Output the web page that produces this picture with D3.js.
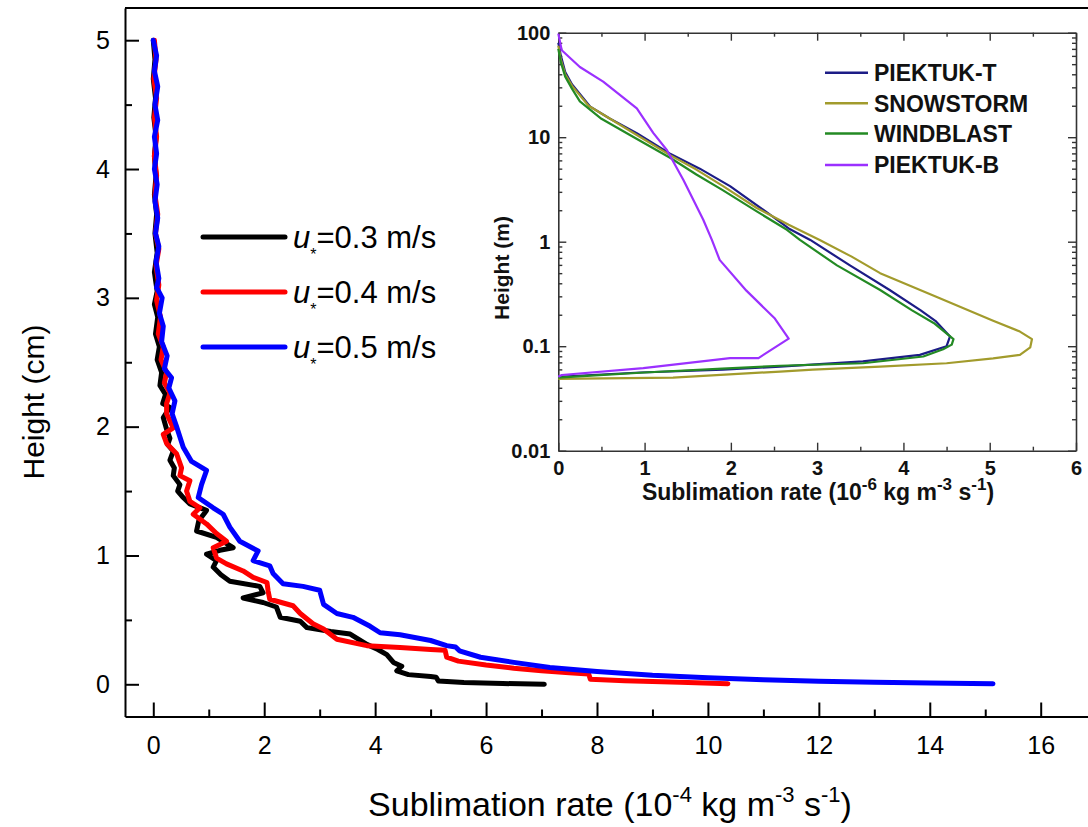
<!DOCTYPE html>
<html>
<head>
<meta charset="utf-8">
<script src="https://cdn.jsdelivr.net/npm/d3@7"></script>
<style>
  body { margin: 0; background: #fff; }
  svg { display: block; }
  text { font-family: "Liberation Sans", Arial, sans-serif; }
</style>
</head>
<body>
<svg id="chart" width="1088" height="827"></svg>
<script>
// ---- Main panel: sublimation rate (1e-4 kg m^-3 s^-1) vs height (cm) ----
const mainSeriesNames = ["0.3", "0.4", "0.5"];
const mainColors = ["#000000", "#ff0000", "#0000ff"];

const profileU03 = [
  [0.00,5.00],[0.03,4.85],[0.00,4.70],[0.04,4.55],[0.01,4.40],[0.05,4.25],[0.02,4.10],[0.05,3.95],
  [0.02,3.80],[0.06,3.65],[0.03,3.50],[0.07,3.35],[0.02,3.20],[0.07,3.05],[0.02,2.95],[0.08,2.85],
  [0.04,2.72],[0.11,2.62],[0.07,2.52],[0.15,2.42],[0.12,2.32],[0.22,2.25],[0.17,2.18],[0.30,2.15],
  [0.18,2.07],[0.24,1.98],[0.30,1.91],[0.26,1.86],[0.36,1.81],[0.30,1.74],[0.38,1.68],[0.36,1.62],
  [0.48,1.55],[0.44,1.50],[0.54,1.45],[0.66,1.40],[0.96,1.35],[0.82,1.27],[0.78,1.19],[1.14,1.14],
  [1.44,1.06],[1.20,1.04],[0.96,1.01],[1.14,0.96],[1.08,0.91],[1.22,0.85],[1.38,0.80],[1.92,0.76],
  [1.98,0.71],[1.62,0.67],[1.98,0.635],[2.22,0.60],[2.29,0.52],[2.65,0.49],[2.77,0.44],[3.20,0.41],
  [3.55,0.39],[3.85,0.31],[4.05,0.27],[4.21,0.23],[4.33,0.17],[4.48,0.14],[4.39,0.105],[4.60,0.075],
  [5.00,0.06],[5.10,0.055],[5.14,0.025],[5.60,0.014],[6.30,0.006],[7.05,0.0]
];
const profileU04 = [
  [0.02,5.00],[0.05,4.85],[0.01,4.70],[0.06,4.55],[0.02,4.40],[0.06,4.25],[0.02,4.10],[0.06,3.95],
  [0.03,3.80],[0.08,3.65],[0.04,3.50],[0.10,3.38],[0.05,3.25],[0.10,3.10],[0.06,2.98],[0.13,2.85],
  [0.09,2.72],[0.18,2.62],[0.14,2.52],[0.24,2.42],[0.20,2.34],[0.30,2.26],[0.24,2.18],[0.24,2.10],
  [0.36,1.99],[0.18,1.94],[0.24,1.87],[0.42,1.79],[0.51,1.68],[0.48,1.62],[0.66,1.58],[0.60,1.50],
  [0.66,1.42],[0.84,1.37],[0.72,1.32],[0.96,1.245],[1.14,1.17],[1.32,1.11],[1.08,1.06],[1.14,0.98],
  [1.32,0.935],[1.62,0.88],[1.80,0.83],[2.05,0.79],[2.07,0.725],[2.10,0.66],[2.52,0.61],[2.65,0.55],
  [2.88,0.47],[3.07,0.43],[3.31,0.35],[3.85,0.30],[4.45,0.285],[5.00,0.27],[5.26,0.265],[5.29,0.21],
  [5.50,0.18],[6.00,0.15],[6.50,0.125],[7.00,0.105],[7.50,0.09],[7.85,0.08],[7.88,0.04],[8.50,0.028],
  [9.50,0.015],[10.36,0.005]
];
const profileU05 = [
  [0.00,5.00],[0.06,4.88],[0.02,4.76],[0.08,4.64],[0.03,4.50],[0.08,4.38],[0.02,4.25],[0.06,4.12],
  [0.02,4.00],[0.07,3.88],[0.03,3.75],[0.08,3.62],[0.04,3.50],[0.10,3.40],[0.05,3.28],[0.10,3.15],
  [0.06,3.08],[0.16,3.00],[0.11,2.88],[0.18,2.78],[0.15,2.66],[0.25,2.55],[0.20,2.45],[0.33,2.38],
  [0.28,2.30],[0.39,2.20],[0.34,2.10],[0.42,2.00],[0.54,1.84],[0.69,1.73],[0.96,1.66],[0.87,1.55],
  [0.81,1.45],[1.08,1.37],[1.26,1.32],[1.38,1.22],[1.56,1.11],[1.89,1.035],[1.80,0.96],[2.10,0.92],
  [2.16,0.86],[2.34,0.78],[2.70,0.76],[3.00,0.73],[3.07,0.62],[3.31,0.55],[3.60,0.52],[3.91,0.45],
  [4.09,0.40],[4.45,0.385],[5.00,0.34],[5.29,0.30],[5.45,0.29],[5.52,0.26],[5.90,0.21],[6.50,0.17],
  [7.15,0.13],[8.00,0.10],[9.00,0.07],[10.00,0.05],[11.00,0.035],[12.00,0.024],[13.00,0.016],
  [14.00,0.01],[15.14,0.005]
];
const mainProfiles = [profileU03, profileU04, profileU05];

const mainXTicks = [0, 2, 4, 6, 8, 10, 12, 14, 16];
const mainXMinor = [1, 3, 5, 7, 9, 11, 13, 15, 17];
const mainYTicks = [0, 1, 2, 3, 4, 5];
const mainYMinor = [0.5, 1.5, 2.5, 3.5, 4.5];

// ---- Inset: sublimation rate (1e-6 kg m^-3 s^-1) vs height (m), log scale ----
const insetNames = ["PIEKTUK-T", "SNOWSTORM", "WINDBLAST", "PIEKTUK-B"];
const insetColors = ["#1c1c86", "#a29b2c", "#238a23", "#9b30ff"];

const piektukT = [
  [0,80],[0.03,60],[0.08,42],[0.16,32],[0.37,19.6],[0.6,15],[0.91,10.9],[1.29,7.0],[1.64,5.0],
  [1.99,3.4],[2.49,1.73],[2.67,1.34],[2.92,1.04],[3.38,0.593],[3.84,0.345],[4.2,0.22],[4.37,0.175],
  [4.54,0.124],[4.5,0.1],[4.19,0.0826],[3.53,0.0715],[2.57,0.0637],[1.91,0.0596],[0.95,0.056],[0,0.051]
];
const snowstorm = [
  [0,75],[0.03,55],[0.08,40],[0.16,31],[0.35,20],[0.6,15],[0.91,10.5],[1.3,6.7],[1.6,4.9],[1.91,3.4],
  [2.3,2.1],[2.67,1.45],[3.03,1.04],[3.4,0.72],[3.73,0.5],[4.38,0.297],[5.04,0.175],[5.35,0.138],
  [5.49,0.117],[5.47,0.0975],[5.35,0.0827],[5.04,0.0766],[4.5,0.0687],[3.73,0.0637],[2.95,0.0596],
  [2.57,0.0572],[1.33,0.05],[0,0.0486]
];
const windblast = [
  [0,70],[0.03,52],[0.08,38],[0.16,29],[0.25,22],[0.5,15],[0.83,10.5],[1.31,6.25],[1.6,4.4],[1.91,3.1],
  [2.3,1.95],[2.65,1.3],[2.8,1.04],[3.23,0.593],[3.73,0.345],[4.1,0.22],[4.35,0.167],[4.58,0.117],
  [4.56,0.1035],[4.46,0.0935],[4.23,0.0797],[3.53,0.0687],[2.57,0.065],[1.9,0.061],[1.0,0.056],[0,0.05]
];
const piektukB = [
  [0,98],[0.04,68],[0.25,47],[0.52,34],[0.91,18.9],[1.1,11],[1.26,7.5],[1.45,3.9],[1.68,1.62],
  [1.78,1.04],[1.87,0.67],[2.18,0.34],[2.51,0.184],[2.67,0.118],[2.32,0.077],[1.99,0.077],
  [0.985,0.0616],[0.04,0.053],[0,0.051]
];
const insetProfiles = [piektukT, snowstorm, windblast, piektukB];

const insetXTicks = [0, 1, 2, 3, 4, 5, 6];
const insetXMinor = [0.5, 1.5, 2.5, 3.5, 4.5, 5.5];
const insetYTicks = [0.01, 0.1, 1, 10, 100];
const insetYMinor = [];
[0.01, 0.1, 1, 10].forEach(dec => { for (let m = 2; m <= 9; m++) insetYMinor.push(+(m * dec).toPrecision(3)); });

// ---------------------------------------------------------------------------
const svg = d3.select("#chart");
const FONT = "'Liberation Sans', Arial, sans-serif";

// Main scales
const x = d3.scaleLinear().domain([-0.51, 17.61]).range([125, 1130]);
const y = d3.scaleLinear().domain([-0.25, 5.25]).range([716.5, 8]);

const main = svg.append("g");

// axes with inward ticks
function styleAxis(g, width) {
  g.selectAll("path.domain").attr("stroke", "#000").attr("stroke-width", width);
  g.selectAll(".tick line").attr("stroke", "#000").attr("stroke-width", width);
}

const yAxisG = main.append("g").attr("transform", "translate(125,0)")
  .call(d3.axisLeft(y).tickValues(mainYTicks).tickSizeInner(-14).tickSizeOuter(0).tickPadding(15)
    .tickFormat(d3.format("d")));
main.append("g").attr("transform", "translate(125,0)")
  .call(d3.axisLeft(y).tickValues(mainYMinor).tickSizeInner(-7).tickSizeOuter(0).tickFormat(""))
  .call(g => g.select(".domain").remove())
  .call(g => styleAxis(g, 2));
styleAxis(yAxisG, 2);
yAxisG.selectAll("text").attr("font-size", 25).attr("font-family", FONT).attr("fill", "#000");

const xAxisG = main.append("g").attr("transform", "translate(0,716.5)")
  .call(d3.axisBottom(x).tickValues(mainXTicks).tickSizeInner(-14).tickSizeOuter(0).tickPadding(20)
    .tickFormat(d3.format("d")));
main.append("g").attr("transform", "translate(0,716.5)")
  .call(d3.axisBottom(x).tickValues(mainXMinor).tickSizeInner(-7).tickSizeOuter(0).tickFormat(""))
  .call(g => g.select(".domain").remove())
  .call(g => styleAxis(g, 2));
styleAxis(xAxisG, 2);
xAxisG.selectAll("text").attr("font-size", 25).attr("font-family", FONT).attr("fill", "#000");

// top frame line
main.append("line").attr("x1", 125).attr("x2", 1130).attr("y1", 8).attr("y2", 8)
  .attr("stroke", "#000").attr("stroke-width", 2);

// profiles
const line = d3.line().x(d => x(d[0])).y(d => y(d[1]));
mainProfiles.forEach((p, i) => {
  main.append("path").datum(p).attr("d", line)
    .attr("fill", "none").attr("stroke", mainColors[i]).attr("stroke-width", 5)
    .attr("stroke-linejoin", "round").attr("stroke-linecap", "round");
});

// axis titles
svg.append("text").attr("transform", "translate(44,402) rotate(-90)")
  .attr("text-anchor", "middle").attr("font-size", 30).attr("font-family", FONT)
  .text("Height (cm)");

function unitTitle(sel, base, exps, supSize, supRise) {
  // base pieces alternate with superscript exponents
  sel.append("tspan").text(base[0]);
  exps.forEach((e, i) => {
    sel.append("tspan").attr("font-size", supSize).attr("dy", -supRise).text(e);
    sel.append("tspan").attr("dy", supRise).text(base[i + 1]);
  });
}
const xTitle = svg.append("text").attr("x", 610).attr("y", 816)
  .attr("text-anchor", "middle").attr("font-size", 34).attr("font-family", FONT);
unitTitle(xTitle, ["Sublimation rate (10", " kg m", " s", ")"], ["-4", "-3", "-1"], 22, 14);

// legend
const legendRows = [237, 292, 347];
mainSeriesNames.forEach((name, i) => {
  const ly = legendRows[i];
  svg.append("line").attr("x1", 203).attr("x2", 285).attr("y1", ly).attr("y2", ly)
    .attr("stroke", mainColors[i]).attr("stroke-width", 5).attr("stroke-linecap", "round");
  const t = svg.append("text").attr("x", 293).attr("y", ly + 11)
    .attr("font-size", 31).attr("font-family", FONT);
  t.append("tspan").attr("font-style", "italic").text("u");
  t.append("tspan").attr("font-size", 16).attr("dy", 12).text("*");
  t.append("tspan").attr("dy", -12).text("=" + name + " m/s");
});

// ---------------- Inset ----------------
const ix = d3.scaleLinear().domain([0, 6]).range([558.3, 1076]);
const iy = d3.scaleLog().domain([0.01, 100]).range([450.7, 32.7]);
const inset = svg.append("g");
const INK = "#333";

inset.append("rect").attr("x", 558.3).attr("y", 32.7).attr("width", 1076 - 558.3).attr("height", 450.7 - 32.7)
  .attr("fill", "#fff");

function styleInset(g) {
  g.selectAll("path.domain").attr("stroke", INK).attr("stroke-width", 1.6);
  g.selectAll(".tick line").attr("stroke", INK).attr("stroke-width", 1.4);
  g.selectAll("text").attr("font-family", FONT).attr("font-weight", "bold")
    .attr("font-size", 20).attr("fill", "#111");
}

// bottom
inset.append("g").attr("transform", "translate(0,450.7)")
  .call(d3.axisBottom(ix).tickValues(insetXTicks).tickSizeInner(-8).tickSizeOuter(0).tickPadding(10)
    .tickFormat(d3.format("d"))).call(styleInset);
inset.append("g").attr("transform", "translate(0,450.7)")
  .call(d3.axisBottom(ix).tickValues(insetXMinor).tickSizeInner(-4).tickSizeOuter(0).tickFormat(""))
  .call(g => g.select(".domain").remove()).call(styleInset);
// top
inset.append("g").attr("transform", "translate(0,32.7)")
  .call(d3.axisTop(ix).tickValues(insetXTicks).tickSizeInner(-8).tickSizeOuter(0).tickFormat(""))
  .call(styleInset);
inset.append("g").attr("transform", "translate(0,32.7)")
  .call(d3.axisTop(ix).tickValues(insetXMinor).tickSizeInner(-4).tickSizeOuter(0).tickFormat(""))
  .call(g => g.select(".domain").remove()).call(styleInset);
// left
inset.append("g").attr("transform", "translate(558.3,0)")
  .call(d3.axisLeft(iy).tickValues(insetYTicks).tickSizeInner(-8).tickSizeOuter(0).tickPadding(8)
    .tickFormat(d => String(d))).call(styleInset);
inset.append("g").attr("transform", "translate(558.3,0)")
  .call(d3.axisLeft(iy).tickValues(insetYMinor).tickSizeInner(-4).tickSizeOuter(0).tickFormat(""))
  .call(g => g.select(".domain").remove()).call(styleInset);
// right
inset.append("g").attr("transform", "translate(1076,0)")
  .call(d3.axisRight(iy).tickValues(insetYTicks).tickSizeInner(-8).tickSizeOuter(0).tickFormat(""))
  .call(styleInset);
inset.append("g").attr("transform", "translate(1076,0)")
  .call(d3.axisRight(iy).tickValues(insetYMinor).tickSizeInner(-4).tickSizeOuter(0).tickFormat(""))
  .call(g => g.select(".domain").remove()).call(styleInset);

const iline = d3.line().x(d => ix(d[0])).y(d => iy(d[1]));
insetProfiles.forEach((p, i) => {
  inset.append("path").datum(p).attr("d", iline)
    .attr("fill", "none").attr("stroke", insetColors[i]).attr("stroke-width", 2.2)
    .attr("stroke-linejoin", "round");
});

// inset legend
const insetRows = [72.7, 103.3, 133.5, 165];
insetNames.forEach((name, i) => {
  inset.append("line").attr("x1", 825).attr("x2", 868).attr("y1", insetRows[i]).attr("y2", insetRows[i])
    .attr("stroke", insetColors[i]).attr("stroke-width", 2.6);
  inset.append("text").attr("x", 874).attr("y", insetRows[i]).attr("dy", "0.36em")
    .attr("font-size", 23).attr("font-weight", "bold").attr("font-family", FONT).attr("fill", "#111")
    .text(name);
});

// inset titles
inset.append("text").attr("transform", "translate(509,268) rotate(-90)")
  .attr("text-anchor", "middle").attr("font-size", 21).attr("font-weight", "bold")
  .attr("font-family", FONT).attr("fill", "#111").text("Height (m)");
const ixTitle = inset.append("text").attr("x", 818).attr("y", 500)
  .attr("text-anchor", "middle").attr("font-size", 23).attr("font-weight", "bold")
  .attr("font-family", FONT).attr("fill", "#111");
unitTitle(ixTitle, ["Sublimation rate (10", " kg m", " s", ")"], ["-6", "-3", "-1"], 17, 10);
</script>
</body>
</html>
